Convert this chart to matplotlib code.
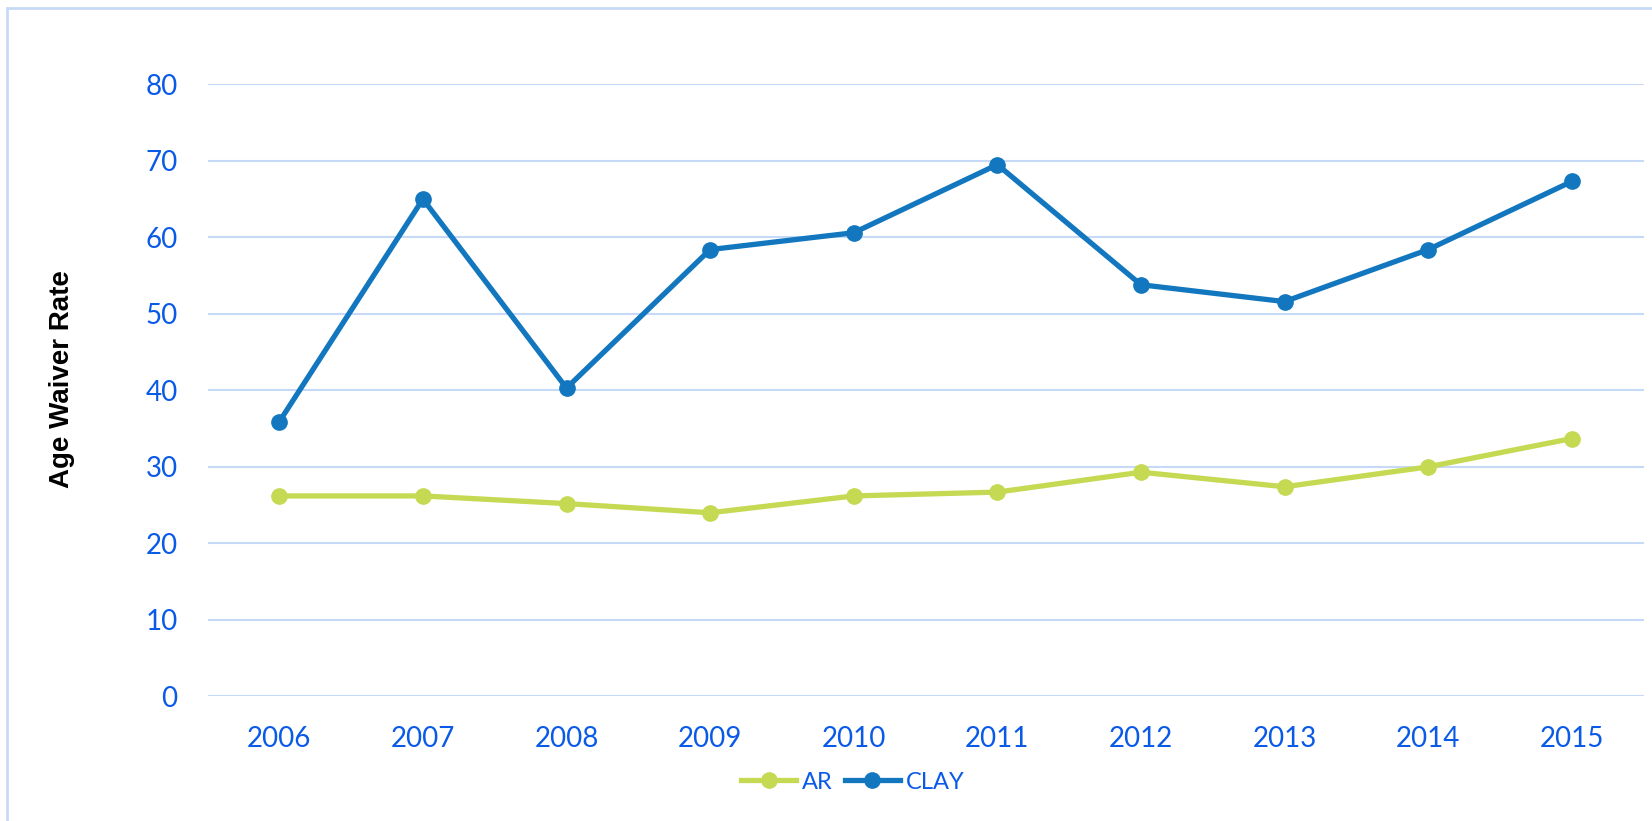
import matplotlib
matplotlib.use("Agg")
import matplotlib.pyplot as plt
from matplotlib.patches import Rectangle

years = ["2006", "2007", "2008", "2009", "2010", "2011", "2012", "2013", "2014", "2015"]
ar = [26.2, 26.2, 25.2, 24.0, 26.2, 26.7, 29.3, 27.4, 30.0, 33.7]
clay = [35.9, 65.0, 40.3, 58.4, 60.6, 69.5, 53.8, 51.6, 58.4, 67.3]
yticks = [0, 10, 20, 30, 40, 50, 60, 70, 80]

blue_txt = "#0a5ae8"
grid_col = "#c6daf8"

fig = plt.figure(figsize=(16.52, 8.21), dpi=100)
ax = fig.add_axes([207.5 / 1652, 1 - 696.4 / 821, (1643.6 - 207.5) / 1652, (696.4 - 84.3) / 821])

# chart border (only top and left edges are inside the image)
fig.patches.append(Rectangle((7 / 1652, -0.1), 1.2, (1 - 8 / 821) + 0.1, transform=fig.transFigure,
                             fill=False, edgecolor=grid_col, linewidth=2))

x = list(range(len(years)))
ax.plot(x, ar, color="#c5d952", linewidth=3.8, marker="o", markersize=11, label="AR", clip_on=False)
ax.plot(x, clay, color="#1277be", linewidth=3.8, marker="o", markersize=11, label="CLAY", clip_on=False)

ax.set_xlim(-0.5, len(years) - 0.5)
ax.set_ylim(0, 80)
ax.set_yticks(yticks)
ax.set_xticks(x)
ax.set_xticklabels(years)
ax.yaxis.grid(True, color=grid_col, linewidth=1.5)
ax.set_axisbelow(True)
for s in ax.spines.values():
    s.set_visible(False)
ax.tick_params(axis="both", length=0, labelsize=20, labelcolor=blue_txt, labelfontfamily="Lato")
ax.tick_params(axis="y", pad=21.6)
ax.tick_params(axis="x", pad=21.5)

fig.text(62 / 1652, 1 - 379 / 821, "Age Waiver Rate", rotation=90, ha="center", va="center",
         fontsize=20, fontweight="bold", family="Liberation Sans", color="black")

leg = fig.legend(loc="center", bbox_to_anchor=(853 / 1652, 1 - 782 / 821), ncol=2, frameon=False,
                 prop={"family": "Lato", "size": 17}, handlelength=2.33, columnspacing=0.5,
                 handletextpad=0.25)
for t in leg.get_texts():
    t.set_color(blue_txt)

fig.savefig("out.png", dpi=100)
